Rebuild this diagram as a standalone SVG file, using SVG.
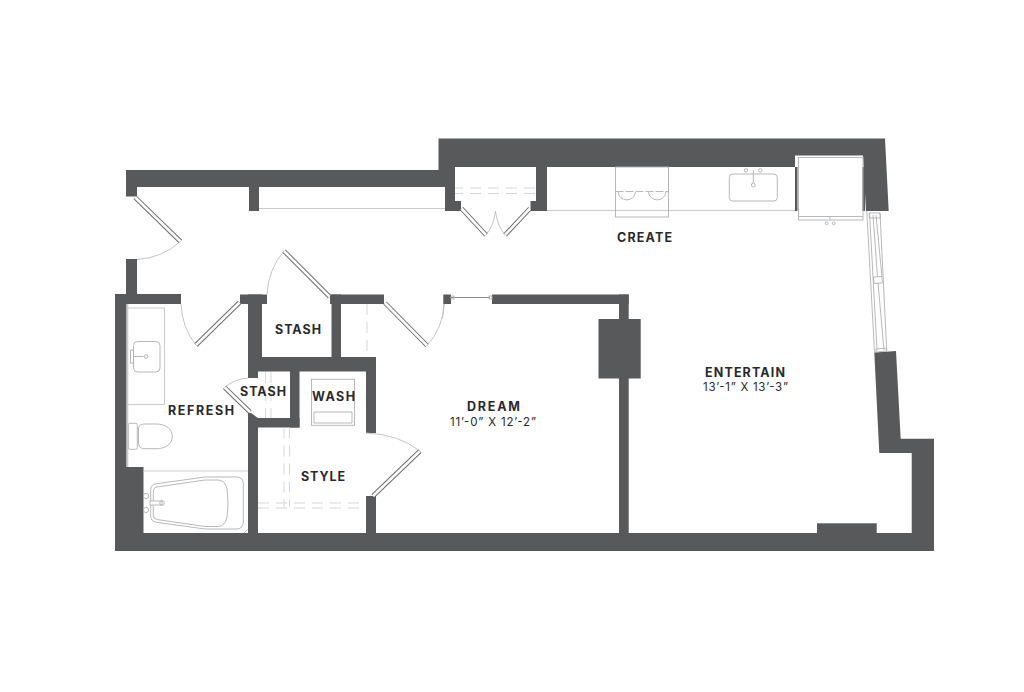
<svg xmlns="http://www.w3.org/2000/svg" width="1024" height="692" viewBox="0 0 1024 692">
<defs><style>
.w{fill:#58595b}
.l{fill:none;stroke:#c4c5c6;stroke-width:.9}
.f{fill:none;stroke:#b0b1b3;stroke-width:.9}
.d{fill:none;stroke:#d6d7d8;stroke-width:1;stroke-dasharray:11 7}
.a{fill:none;stroke:#bcbdbf;stroke-width:.9}
.o{stroke:#6a6b6d;stroke-width:4.6;fill:none}
.i{stroke:#fff;stroke-width:2.6;fill:none}
text{font-family:"Inter","Liberation Sans",sans-serif;fill:#2a2a2c}
.t{font-size:12.5px;font-weight:700}
.s{font-size:11.5px;font-weight:400}
</style></defs>
<rect width="1024" height="692" fill="#fff"/>
<g id="walls" class="w">
<polygon points="126,170 445,170 445,187 259,187 259,211 249,211 249,187 137,187 137,196.5 126,196.5"/>
<polygon points="438.5,138.5 885,138.5 888.7,211 866,211 863,155.5 795,155.5 795,167 547,167 547,211 530.5,211 530.5,201 536,201 536,167 455,167 455,201 461,201 461,211 445,211 445,187 438.5,187"/>
<rect x="126" y="259" width="11" height="36"/>
<rect x="115" y="294" width="11.5" height="257"/>
<rect x="115" y="294" width="66" height="10"/>
<rect x="126" y="467" width="17.5" height="66"/>
<rect x="115" y="533" width="819" height="18"/>
<rect x="240" y="294.5" width="27" height="9.5"/>
<rect x="248" y="294.5" width="14" height="63"/>
<rect x="248" y="357" width="128" height="14.5"/>
<rect x="248" y="371" width="10" height="7"/>
<polygon points="248,413 251,413 258,418 258,533 248,533"/>
<rect x="248" y="418" width="51.5" height="9.5"/>
<rect x="290" y="371" width="9.5" height="56.5"/>
<rect x="331.5" y="294.5" width="9.5" height="63"/>
<rect x="330" y="294.5" width="54" height="9.5"/>
<rect x="366" y="371" width="10" height="62"/>
<rect x="366" y="496" width="10" height="37"/>
<rect x="492" y="294.5" width="136.7" height="9.5"/>
<rect x="619" y="294.5" width="9.7" height="238.5"/>
<rect x="598.5" y="319" width="42.2" height="59.5"/>
<rect x="817" y="523.3" width="59.7" height="10"/>
<polygon points="874.3,352.5 896,351 900.7,438.7 934,438.7 934,551 911.7,551 911.7,453 879.3,453"/>
<rect x="443.3" y="294.5" width="7.7" height="9.5"/>
<rect x="795" y="167" width="2.5" height="44"/>
<rect x="862.5" y="167" width="2.5" height="44"/>
</g>
<g id="counters">
<line class="l" x1="259" y1="208.5" x2="445" y2="208.5"/>
<line class="l" x1="547" y1="210.5" x2="795" y2="210.5"/>
<rect class="l" x="127.5" y="308" width="37" height="96.5"/>
<line x1="127.5" y1="304" x2="127.5" y2="467" stroke="#c9cacb" stroke-width="1.6"/>
<line class="l" x1="143.5" y1="471" x2="248" y2="471"/>
<line class="d" x1="367" y1="304" x2="367" y2="357"/>
<line class="d" x1="455" y1="188" x2="536" y2="188" stroke-dashoffset="3"/>
<line class="d" x1="455" y1="193.5" x2="536" y2="193.5" stroke-dashoffset="3"/>
<line class="d" x1="265.5" y1="372" x2="265.5" y2="418"/>
<line class="d" x1="271" y1="372" x2="271" y2="418"/>
<line class="d" x1="284" y1="427.5" x2="284" y2="507"/>
<line class="d" x1="289.5" y1="427.5" x2="289.5" y2="507"/>
<line class="d" x1="258" y1="503" x2="366" y2="503"/>
<line class="d" x1="258" y1="508" x2="366" y2="508"/>
</g>
<g id="sink-bath" class="f">
<rect x="133.5" y="341.5" width="26.5" height="30.5" rx="4"/>
<rect x="130.5" y="350" width="3" height="13"/>
<line x1="133.5" y1="356.5" x2="143.5" y2="356.5"/>
<circle cx="146" cy="356.5" r="1.8"/>
</g>
<g id="toilet" class="f">
<rect x="128.3" y="423.3" width="9" height="26" rx="1.5"/>
<path d="M138.5,428C139,425 141,424 145,424L156,424C166,424 172.3,429 172.3,436.3C172.3,443.7 166,448.7 156,448.7L145,448.7C141,448.7 139,447 138.5,444Z"/>
</g>
<g id="tub" class="f">
<path d="M150.7,490Q150.7,484.5 156,483.8L205,477L236,477Q243.3,477 243.3,484L243.3,522Q243.3,529 236,529L205,529L156,522.2Q150.7,521.5 150.7,516Z"/>
<path d="M153.3,491Q153.3,487.5 157,487L205,480L218,480Q225,480 227,489Q229,503 227,517Q225,526.5 218,526.5L205,526.5L157,519.5Q153.3,519 153.3,515Z"/>
<circle cx="146" cy="496" r="2.6"/>
<circle cx="146" cy="510" r="2.6"/>
<rect x="150" y="501" width="12" height="4" fill="#fff"/>
<circle cx="162" cy="503" r="2.3"/>
<path d="M244,533L247.5,529.5"/>
</g>
<g id="washer" class="f">
<rect x="311.5" y="379.3" width="43" height="46"/>
<line x1="314" y1="412" x2="352" y2="412"/>
<path d="M314,412L314,423H352V412"/>
</g>
<g id="range" class="f">
<rect x="615.5" y="167" width="53" height="50"/>
<line x1="615.5" y1="191.5" x2="668.5" y2="191.5" stroke-dasharray="8 2"/>
<path d="M618,192A8.8,8.8 0 0 0 635.5,192"/>
<path d="M648.5,192A8.8,8.8 0 0 0 666,192"/>
</g>
<g id="kitchen-sink" class="f">
<rect x="729.3" y="174" width="48" height="27" rx="3.5"/>
<circle cx="746" cy="170.3" r="1.7"/>
<circle cx="760.3" cy="170.3" r="1.7"/>
<line x1="753.3" y1="170" x2="753.3" y2="183"/>
<circle cx="753.3" cy="185" r="1.9"/>
</g>
<g id="fridge">
<rect class="f" x="798.5" y="157.5" width="64.5" height="62.5"/>
<line class="f" x1="798.5" y1="216.5" x2="863" y2="216.5"/>
<circle class="f" cx="826.7" cy="223.3" r="1.4"/>
<circle class="f" cx="833.7" cy="223.3" r="1.4"/>
<line class="f" x1="830" y1="217" x2="830" y2="220"/>
</g>
<g id="window" class="f">
<line x1="866.8" y1="211" x2="874.5" y2="352"/>
<line x1="869.5" y1="213" x2="877" y2="350"/>
<line x1="880" y1="213" x2="886.7" y2="350"/>
<line x1="876" y1="215" x2="882" y2="277"/>
<line x1="873" y1="215" x2="877.5" y2="277"/>
<line x1="878" y1="283" x2="884" y2="350"/>
<polygon points="869,213 880,213 880.5,218 869.5,218"/>
<polygon points="873.5,277 881.8,276.5 882.3,283 874,283.5"/>
<polygon points="876,349 886.5,348 886.7,351 876.2,352"/>
</g>
<g id="doors">
<g id="door-entry"><line class="o" x1="135" y1="197.3" x2="180.5" y2="241.5"/><line class="i" x1="135" y1="197.3" x2="180.5" y2="241.5"/><path class="a" d="M180.5,241.5Q162,258 137,259.5"/></g>
<g id="door-bath"><line class="o" x1="196" y1="345" x2="239.5" y2="302.5"/><line class="i" x1="196" y1="345" x2="239.5" y2="302.5"/><path class="a" d="M181,304Q182,328 196,345"/></g>
<g id="door-stash"><line class="o" x1="284" y1="251" x2="329.5" y2="296.7"/><line class="i" x1="284" y1="251" x2="329.5" y2="296.7"/><path class="a" d="M284,251Q268,270 267,294.5"/></g>
<g id="door-dream"><line class="o" x1="385" y1="303" x2="427" y2="345.5"/><line class="i" x1="385" y1="303" x2="427" y2="345.5"/><path class="a" d="M427,345.5Q443,328 444,304"/></g>
<g id="door-stash2"><line class="o" x1="224.5" y1="387.3" x2="250" y2="412"/><line class="i" x1="224.5" y1="387.3" x2="250" y2="412"/><path class="a" d="M224.5,387.3Q235,379 248,378"/></g>
<g id="door-style"><line class="o" x1="373" y1="496" x2="420" y2="451"/><line class="i" x1="373" y1="496" x2="420" y2="451"/><path class="a" d="M420,451Q398,434 366,433"/></g>
<g id="door-pantry-l"><line class="o" x1="461.5" y1="208.5" x2="486" y2="235"/><line class="i" x1="461.5" y1="208.5" x2="486" y2="235"/><path class="a" d="M486,235Q494,225 495.5,211"/></g>
<g id="door-pantry-r"><line class="o" x1="530" y1="208.5" x2="505" y2="235"/><line class="i" x1="530" y1="208.5" x2="505" y2="235"/><path class="a" d="M505,235Q497,225 495.5,211"/></g>
<g id="door-sliding"><line x1="451" y1="297.5" x2="490" y2="297.5" stroke="#8a8b8d" stroke-width="1"/><rect class="f" x="451" y="296" width="3" height="3" fill="#fff"/><rect class="f" x="489" y="296" width="3" height="3" fill="#fff"/><path class="a" d="M444,304Q444,312 442,319"/></g>
</g>
<g id="labels">
<text class="t" x="275" y="334" textLength="46" lengthAdjust="spacing">STASH</text>
<text class="t" x="617" y="242" textLength="55" lengthAdjust="spacing">CREATE</text>
<text class="t" x="705" y="377" textLength="80" lengthAdjust="spacing">ENTERTAIN</text>
<text class="s" x="703" y="391" textLength="85" lengthAdjust="spacing">13’-1” X 13’-3”</text>
<text class="t" x="467" y="411" textLength="53" lengthAdjust="spacing">DREAM</text>
<text class="s" x="450" y="426" textLength="86" lengthAdjust="spacing">11’-0” X 12’-2”</text>
<text class="t" x="312" y="401" textLength="43" lengthAdjust="spacing">WASH</text>
<text class="t" x="240" y="396" textLength="46" lengthAdjust="spacing">STASH</text>
<text class="t" x="168" y="415" textLength="66" lengthAdjust="spacing">REFRESH</text>
<text class="t" x="301" y="481" textLength="44" lengthAdjust="spacing">STYLE</text>
</g>
</svg>
